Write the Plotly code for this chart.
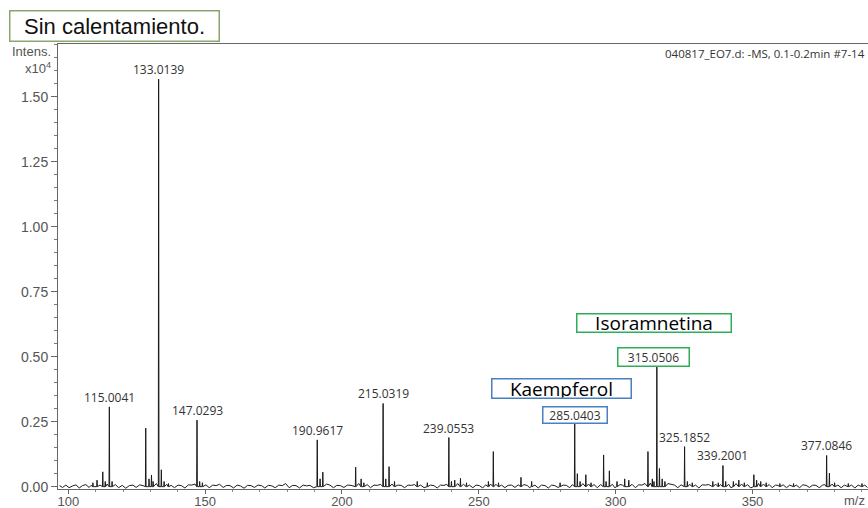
import plotly.graph_objects as go

# ---- data (m/z, intensity x10^4) ----
peak_mz = [109.0, 110.5, 112.6, 113.5, 115.0041, 116.0, 128.3, 129.5, 130.4, 131.0,
           133.0139, 134.0, 135.0, 136.6, 147.0293, 148.0, 149.0, 190.9617, 192.0, 193.0,
           205.0, 207.0, 208.0, 215.0319, 216.0, 217.2, 219.2, 227.5, 231.2, 239.0553,
           240.0, 241.2, 243.3, 245.5, 253.5, 255.3, 257.2, 265.4, 269.3, 279.7,
           285.0403, 286.0, 287.0, 289.1, 291.0, 295.6, 296.5, 297.7, 300.5, 303.3,
           304.8, 311.8, 313.4, 314.0, 315.0506, 316.0, 317.0, 318.0, 325.1852, 326.2,
           328.0, 335.5, 337.5, 339.2001, 340.2, 343.0, 345.0, 347.0, 350.5, 351.5,
           353.0, 355.0, 360.0, 365.0, 377.0846, 378.1, 380.0, 385.0, 390.0]
peak_int = [0.015, 0.025, 0.057, 0.02, 0.307, 0.02, 0.225, 0.03, 0.045, 0.02,
            1.568, 0.065, 0.02, 0.012, 0.256, 0.02, 0.015, 0.18, 0.03, 0.056,
            0.075, 0.03, 0.015, 0.32, 0.03, 0.077, 0.02, 0.02, 0.015, 0.189,
            0.02, 0.025, 0.032, 0.015, 0.02, 0.135, 0.015, 0.036, 0.02, 0.015,
            0.241, 0.05, 0.02, 0.046, 0.015, 0.122, 0.02, 0.061, 0.02, 0.03,
            0.025, 0.135, 0.03, 0.02, 0.46, 0.07, 0.03, 0.02, 0.154, 0.02,
            0.015, 0.02, 0.015, 0.0815, 0.02, 0.02, 0.025, 0.015, 0.046, 0.025,
            0.02, 0.015, 0.012, 0.012, 0.12, 0.052, 0.015, 0.012, 0.012]

noise_mz = [96.8, 97.9, 99.1, 100.3, 101.6, 102.8, 104.0, 105.2, 106.4, 107.6, 108.3, 111.6, 114.2,
            117.2, 118.4, 119.7, 121.0, 122.3, 123.6, 124.8, 126.1, 127.3, 132.2, 136.0, 137.6,
            138.8, 140.1, 141.3, 142.6, 143.9, 145.1, 146.3, 150.3, 151.5, 152.8, 154.0, 155.3,
            156.6, 157.9, 159.1, 160.4, 161.7, 162.9, 164.2, 165.5, 166.8, 168.0, 169.3, 170.6,
            171.8, 173.1, 174.4, 175.6, 176.9, 178.2, 179.4, 180.7, 182.0, 183.2, 184.5, 185.8,
            187.0, 188.3, 189.6, 194.4, 195.6, 196.9, 198.1, 199.4, 200.7, 202.0, 203.3, 206.1,
            209.2, 210.4, 211.7, 213.0, 214.1, 218.3, 220.4, 221.6, 222.9, 224.1, 225.3, 226.5,
            228.7, 230.0, 232.3, 233.6, 234.8, 236.0, 237.3, 238.3, 242.3, 244.4, 246.6, 247.8,
            249.0, 250.2, 251.4, 252.5, 254.3, 256.3, 258.3, 259.5, 260.7, 262.0, 263.2, 264.4,
            266.5, 267.8, 268.5, 270.5, 271.7, 272.9, 274.2, 275.4, 276.6, 277.8, 278.9, 280.8,
            282.0, 283.2, 284.2, 288.0, 290.1, 292.1, 293.3, 294.5, 298.8, 299.7, 301.6, 302.5,
            306.0, 307.2, 308.4, 309.6, 310.7, 312.7, 319.1, 320.3, 321.5, 322.7, 323.9, 327.1,
            329.2, 330.4, 331.6, 332.8, 334.0, 336.5, 338.3, 341.3, 342.1, 344.0, 346.0, 348.2,
            349.3, 352.2, 354.0, 356.1, 357.2, 358.4, 359.3, 361.2, 362.4, 363.6, 364.4, 366.0,
            367.2, 368.4, 369.6, 370.8, 372.0, 373.2, 374.4, 375.6, 376.4, 379.1, 381.2, 382.4,
            383.6, 384.4, 386.2, 387.4, 388.6, 389.4, 391.0, 392.0]
noise_int = [0.004, -0.003, 0.006, -0.004, 0.003, 0.007, -0.005, 0.004, 0.008, -0.003, 0.005, 0.006, 0.01,
             0.008, -0.004, 0.005, -0.006, 0.004, 0.006, -0.003, 0.007, 0.004, 0.012, 0.009, 0.005,
             -0.004, 0.006, 0.004, -0.005, 0.007, 0.006, 0.01, 0.007, -0.004, 0.006, 0.004, 0.009,
             -0.003, 0.005, 0.004, -0.005, 0.006, 0.003, -0.006, 0.005, 0.004, -0.003, 0.006, 0.004,
             -0.005, 0.005, 0.003, -0.004, 0.006, 0.004, 0.012, -0.004, 0.005, 0.004, -0.005, 0.006,
             0.003, 0.005, -0.004, 0.01, 0.006, -0.004, 0.005, 0.004, -0.003, 0.006, 0.005, 0.012,
             0.008, -0.004, 0.006, 0.005, 0.009, 0.01, 0.006, 0.005, -0.004, 0.006, 0.005, 0.008,
             0.006, -0.004, 0.006, 0.004, -0.005, 0.006, 0.005, 0.009, 0.012, 0.009, 0.006, -0.004,
             0.006, 0.004, -0.005, 0.007, 0.01, 0.009, 0.006, -0.004, 0.005, 0.006, -0.003, 0.007,
             0.008, 0.004, -0.004, 0.006, -0.005, 0.006, 0.004, -0.005, 0.006, 0.004, -0.003, 0.006,
             0.005, -0.004, 0.008, 0.012, 0.01, 0.008, -0.004, 0.008, 0.009, -0.004, 0.008, 0.006,
             0.009, -0.004, 0.007, 0.006, 0.012, 0.014, 0.012, 0.009, 0.006, -0.004, 0.007, 0.009,
             0.006, -0.005, 0.007, 0.006, 0.008, 0.01, 0.008, 0.009, -0.004, 0.012, 0.01, 0.008,
             -0.005, 0.012, 0.01, 0.008, -0.004, 0.006, 0.005, 0.007, -0.004, 0.006, 0.004, 0.006,
             -0.004, 0.007, 0.005, -0.003, 0.006, 0.005, -0.004, 0.006, 0.008, 0.01, 0.006, -0.004,
             0.006, 0.004, 0.006, -0.005, 0.006, 0.004, 0.006, -0.003]

labelled_mz = [115.0041, 133.0139, 147.0293, 190.9617, 215.0319, 239.0553, 325.1852, 339.2001, 377.0846]
kaempferol_mz = 285.0403
isoramnetina_mz = 315.0506

y_tickvals = [0.0, 0.25, 0.5, 0.75, 1.0, 1.25, 1.5]
y_ticktext = ["0.00", "0.25", "0.50", "0.75", "1.00", "1.25", "1.50"]
x_tickvals = [100, 150, 200, 250, 300, 350]

# ---- build profile trace ----
pts = []
for m, h in zip(peak_mz, peak_int):
    pts += [(m - 0.12, 0.0), (m, h), (m + 0.12, 0.0)]
for m, v in zip(noise_mz, noise_int):
    pts.append((m, v))
pts.sort(key=lambda p: p[0])
xs = [p[0] for p in pts]
ys = [p[1] for p in pts]
height_of = dict(zip(peak_mz, peak_int))

fig = go.Figure()
fig.add_trace(go.Scatter(x=xs, y=ys, mode="lines",
                         line=dict(color="#1a1a1a", width=1), hoverinfo="skip",
                         showlegend=False))

ann = []
lab_font = dict(family="Open Sans", size=12, color="#333333")
for m in labelled_mz:
    ann.append(dict(x=m, y=height_of[m], xref="x", yref="y", text=f"{m:.4f}",
                    showarrow=False, yanchor="bottom", xanchor="center", font=lab_font,
                    borderpad=0))

blue = "#4a7fc0"
green = "#2fae5a"
ann.append(dict(x=kaempferol_mz, y=height_of[kaempferol_mz], xref="x", yref="y",
                text=f"{kaempferol_mz:.4f}", showarrow=False, yanchor="bottom",
                xanchor="center", font=lab_font, bordercolor=blue, borderwidth=1.5,
                borderpad=0, width=63, height=15, bgcolor="white"))
ann.append(dict(x=isoramnetina_mz, y=height_of[isoramnetina_mz], xref="x", yref="y",
                text=f"{isoramnetina_mz:.4f}", showarrow=False, yanchor="bottom",
                xanchor="center", xshift=-3, font=lab_font, bordercolor=green, borderwidth=1.5,
                borderpad=0, width=70, height=17, bgcolor="white"))
ann.append(dict(x=280.27, y=0.3758, xref="x", yref="y", text="Kaempferol",
                showarrow=False, xanchor="center", yanchor="middle",
                font=dict(family="Open Sans", size=19, color="black"),
                bordercolor=blue, borderwidth=1.5, borderpad=0, width=138, height=18,
                bgcolor="white"))
ann.append(dict(x=313.92, y=0.6304, xref="x", yref="y", text="Isoramnetina",
                showarrow=False, xanchor="center", yanchor="middle",
                font=dict(family="Open Sans", size=19, color="black"),
                bordercolor=green, borderwidth=1.5, borderpad=0, width=153, height=17,
                bgcolor="white"))

ann.append(dict(x=0.070, y=1.0404, xref="paper", yref="paper", text="Sin calentamiento.",
                showarrow=False, xanchor="center", yanchor="middle",
                font=dict(family="Liberation Sans, Arial", size=22, color="#111"),
                bordercolor="#8aa56e", borderwidth=1.5, borderpad=0, width=208, height=29,
                bgcolor="white"))
ann.append(dict(x=1.0, y=0.979, xref="paper", yref="paper", xshift=-1,
                text="040817_EO7.d: -MS, 0.1-0.2min #7-14", showarrow=False,
                xanchor="right", yanchor="middle",
                font=dict(family="Open Sans", size=11.5, color="#333")))
ann.append(dict(x=-0.006, y=0.983, xref="paper", yref="paper", text="Intens.",
                showarrow=False, xanchor="right", yanchor="middle",
                font=dict(family="Liberation Sans, Arial", size=13, color="#555")))
ann.append(dict(x=-0.006, y=0.946, xref="paper", yref="paper", text="x10<sup>4</sup>",
                showarrow=False, xanchor="right", yanchor="middle",
                font=dict(family="Liberation Sans, Arial", size=13, color="#555")))
ann.append(dict(x=1.0, y=-0.025, xref="paper", yref="paper", text="m/z", xshift=-1,
                showarrow=False, xanchor="right", yanchor="middle",
                font=dict(family="Liberation Sans, Arial", size=13, color="#555")))

fig.update_layout(
    width=868, height=508,
    margin=dict(l=58, r=0, t=44, b=19, autoexpand=False),
    paper_bgcolor="white", plot_bgcolor="white",
    annotations=ann,
    xaxis=dict(range=[96.24, 392.2], tickvals=x_tickvals, ticks="outside", ticklen=4,
               tickcolor="#666", showline=True, linecolor="#666", linewidth=1, mirror=True,
               showgrid=False, zeroline=False, automargin=False, ticklabelstandoff=-4,
               tickfont=dict(family="Liberation Sans, Arial", size=13, color="#555"),
               minor=dict(dtick=10, tick0=100, ticks="outside", ticklen=2, tickcolor="#888")),
    yaxis=dict(range=[-0.009, 1.703], tickvals=y_tickvals, ticktext=y_ticktext,
               ticks="outside", ticklen=6, tickcolor="#666", showline=True,
               linecolor="#666", linewidth=1, showgrid=False, zeroline=False, automargin=False,
               tickfont=dict(family="Liberation Sans, Arial", size=14, color="#555"),
               minor=dict(dtick=0.05, tick0=0, ticks="outside", ticklen=3, tickcolor="#777")),
)

# remove the page's default body margin so the 868x508 figure fills the window exactly
fig.write_html("out.html", config={"displayModeBar": False},
               post_script="document.body.style.margin='0';document.body.style.overflow='hidden';")
